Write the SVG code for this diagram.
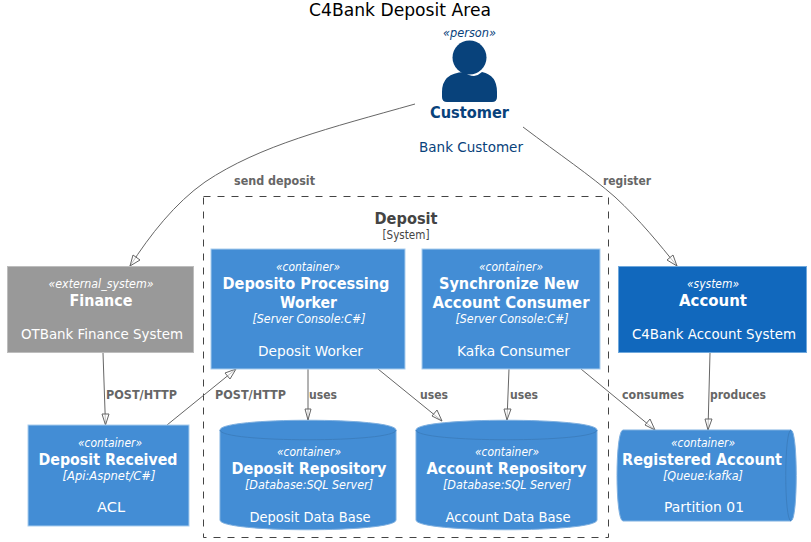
<svg xmlns="http://www.w3.org/2000/svg" width="811" height="542" viewBox="0 0 811 542">
<style>
text{font-family:"DejaVu Sans","Liberation Sans",sans-serif;text-anchor:middle;fill:#fff}
.s{font-size:12px;font-style:italic}
.n{font-size:16px;font-weight:bold}
.t{font-size:12px;font-style:italic}
.d{font-size:14px}
.box{fill:#438DD5;stroke:#A9CDEE;stroke-width:1}
.cyl{fill:#438DD5;stroke:#7FB0E0;stroke-width:1}
.in{fill:none;stroke:#3C7FC0;stroke-width:1}
.l{font-size:12px;font-weight:bold;fill:#666;text-anchor:start}
.c{fill:none;stroke:#666;stroke-width:1}
.a{fill:#fff;fill-opacity:.6;stroke:#666;stroke-width:1}
.cu{fill:#08427B}
</style>
<rect width="811" height="542" fill="#fff"/>
<text x="400" y="16" font-size="18" style="fill:#000" textLength="182" lengthAdjust="spacingAndGlyphs">C4Bank Deposit Area</text>
<g id="boundary">
<rect x="203.5" y="196.5" width="405" height="341" fill="none" stroke="#444" stroke-dasharray="7,7"/>
<text x="406" y="224" font-size="16" font-weight="bold" style="fill:#444" textLength="63" lengthAdjust="spacingAndGlyphs">Deposit</text>
<text x="406" y="239" font-size="12" style="fill:#444" textLength="47" lengthAdjust="spacingAndGlyphs">[System]</text>
</g>
<g id="connectors">
<path class="c" d="M415,104 C330,128 260,145 205,182 C175,203 150,235 130,266"/>
<path class="a" d="M130,266 L133,255 L140,260 Z"/>
<path class="c" d="M523,127 C560,155 590,175 615,197 C640,220 660,245 677,266"/>
<path class="a" d="M677,266 L667,260 L673,255 Z"/>
<path class="c" d="M103,353 L105.500,425"/>
<path class="a" d="M105.500,425 L102,414 L109,414 Z"/>
<path class="c" d="M167,425 L236,369"/>
<path class="a" d="M236,369 L230,379 L225,373 Z"/>
<path class="c" d="M308,369 L308,420"/>
<path class="a" d="M308,420 L305,409 L311,409 Z"/>
<path class="c" d="M378,369 L442,421"/>
<path class="a" d="M442,421 L432,416 L437,410 Z"/>
<path class="c" d="M509,369 L507,420"/>
<path class="a" d="M507,420 L504,409 L511,409 Z"/>
<path class="c" d="M581,369 L655,430"/>
<path class="a" d="M655,430 L645,425 L650,419 Z"/>
<path class="c" d="M710,353 L708,430"/>
<path class="a" d="M708,430 L705,419 L712,419 Z"/>
<text class="l" x="234" y="185" textLength="81" lengthAdjust="spacingAndGlyphs">send deposit</text>
<text class="l" x="603" y="185" textLength="48" lengthAdjust="spacingAndGlyphs">register</text>
<text class="l" x="106" y="399" textLength="71" lengthAdjust="spacingAndGlyphs">POST/HTTP</text>
<text class="l" x="215" y="399" textLength="71" lengthAdjust="spacingAndGlyphs">POST/HTTP</text>
<text class="l" x="309" y="399" textLength="28" lengthAdjust="spacingAndGlyphs">uses</text>
<text class="l" x="420" y="399" textLength="28" lengthAdjust="spacingAndGlyphs">uses</text>
<text class="l" x="510" y="399" textLength="28" lengthAdjust="spacingAndGlyphs">uses</text>
<text class="l" x="622" y="399" textLength="62" lengthAdjust="spacingAndGlyphs">consumes</text>
<text class="l" x="710" y="399" textLength="56" lengthAdjust="spacingAndGlyphs">produces</text>
</g>
<g id="customer">
<text x="469.500" y="37" class="s" style="fill:#08427B" textLength="53" lengthAdjust="spacingAndGlyphs">«person»</text>
<circle class="cu" cx="469.500" cy="57.500" r="17"/>
<path class="cu" d="M442,102 V92 Q442,73 464,72 Q469,76 474,76 Q479,75 482,72 Q497,75 497,92 V97 Q497,102 492,102 L447,102 Q442,102 442,97 Z"/>
<text x="469.500" y="118" class="n" style="fill:#08427B" textLength="79" lengthAdjust="spacingAndGlyphs">Customer</text>
<text x="471" y="152" class="d" style="fill:#08427B" textLength="104" lengthAdjust="spacingAndGlyphs">Bank Customer</text>
</g>
<g id="finance">
<rect x="7.500" y="266.500" width="186" height="86" fill="#999" stroke="#BDBDBD"/>
<text x="101" y="288" class="s" textLength="105" lengthAdjust="spacingAndGlyphs">«external_system»</text>
<text x="101" y="306" class="n" textLength="63" lengthAdjust="spacingAndGlyphs">Finance</text>
<text x="102" y="339" class="d" textLength="162" lengthAdjust="spacingAndGlyphs">OTBank Finance System</text>
</g>
<g id="account">
<rect x="618.500" y="266.500" width="188" height="86" fill="#1168BD" stroke="#6FA8DC"/>
<text x="713" y="288" class="s" textLength="52" lengthAdjust="spacingAndGlyphs">«system»</text>
<text x="713" y="306" class="n" textLength="68" lengthAdjust="spacingAndGlyphs">Account</text>
<text x="714" y="339" class="d" textLength="164" lengthAdjust="spacingAndGlyphs">C4Bank Account System</text>
</g>
<g id="worker">
<rect class="box" x="211" y="249" width="194" height="120"/>
<text x="308" y="271" class="s" textLength="64" lengthAdjust="spacingAndGlyphs">«container»</text>
<text x="306" y="289" class="n" textLength="167" lengthAdjust="spacingAndGlyphs">Deposito Processing</text>
<text x="308.500" y="308" class="n" textLength="57" lengthAdjust="spacingAndGlyphs">Worker</text>
<text x="309" y="323" class="t" textLength="113" lengthAdjust="spacingAndGlyphs">[Server Console:C#]</text>
<text x="310.500" y="356" class="d" textLength="105" lengthAdjust="spacingAndGlyphs">Deposit Worker</text>
</g>
<g id="sync">
<rect class="box" x="422" y="249" width="178" height="120"/>
<text x="511" y="271" class="s" textLength="64" lengthAdjust="spacingAndGlyphs">«container»</text>
<text x="509" y="289" class="n" textLength="140" lengthAdjust="spacingAndGlyphs">Synchronize New</text>
<text x="511" y="308" class="n" textLength="157" lengthAdjust="spacingAndGlyphs">Account Consumer</text>
<text x="512" y="323" class="t" textLength="113" lengthAdjust="spacingAndGlyphs">[Server Console:C#]</text>
<text x="513.500" y="356" class="d" textLength="113" lengthAdjust="spacingAndGlyphs">Kafka Consumer</text>
</g>
<g id="received">
<rect class="box" x="28" y="425" width="161" height="101"/>
<text x="110" y="447" class="s" textLength="64" lengthAdjust="spacingAndGlyphs">«container»</text>
<text x="108" y="465" class="n" textLength="139" lengthAdjust="spacingAndGlyphs">Deposit Received</text>
<text x="109" y="480" class="t" textLength="93" lengthAdjust="spacingAndGlyphs">[Api:Aspnet/C#]</text>
<text x="111" y="512" class="d" textLength="28" lengthAdjust="spacingAndGlyphs">ACL</text>
</g>
<g id="depositrepo">
<path class="cyl" d="M220,430 C220,417 396,417 396,430 V520 C396,533 220,533 220,520 Z"/>
<path class="in" d="M220,430 C220,443 396,443 396,430"/>
<text x="309" y="456" class="s" textLength="64" lengthAdjust="spacingAndGlyphs">«container»</text>
<text x="309" y="474" class="n" textLength="155" lengthAdjust="spacingAndGlyphs">Deposit Repository</text>
<text x="309" y="489" class="t" textLength="128" lengthAdjust="spacingAndGlyphs">[Database:SQL Server]</text>
<text x="310" y="522" class="d" textLength="121" lengthAdjust="spacingAndGlyphs">Deposit Data Base</text>
</g>
<g id="accountrepo">
<path class="cyl" d="M416,430 C416,417 597,417 597,430 V520 C597,533 416,533 416,520 Z"/>
<path class="in" d="M416,430 C416,443 597,443 597,430"/>
<text x="507" y="456" class="s" textLength="64" lengthAdjust="spacingAndGlyphs">«container»</text>
<text x="506.500" y="474" class="n" textLength="160" lengthAdjust="spacingAndGlyphs">Account Repository</text>
<text x="507" y="489" class="t" textLength="128" lengthAdjust="spacingAndGlyphs">[Database:SQL Server]</text>
<text x="508" y="522" class="d" textLength="125" lengthAdjust="spacingAndGlyphs">Account Data Base</text>
</g>
<g id="queue">
<path class="cyl" d="M623,430 H791 C798,430 798,521 791,521 H623 C615,521 615,430 623,430 Z"/>
<path class="in" d="M791,430 C784,430 784,521 791,521"/>
<text x="703" y="447" class="s" textLength="64" lengthAdjust="spacingAndGlyphs">«container»</text>
<text x="702" y="465" class="n" textLength="160" lengthAdjust="spacingAndGlyphs">Registered Account</text>
<text x="703" y="480" class="t" textLength="80" lengthAdjust="spacingAndGlyphs">[Queue:kafka]</text>
<text x="704" y="512" class="d" textLength="80" lengthAdjust="spacingAndGlyphs">Partition 01</text>
</g>
</svg>
